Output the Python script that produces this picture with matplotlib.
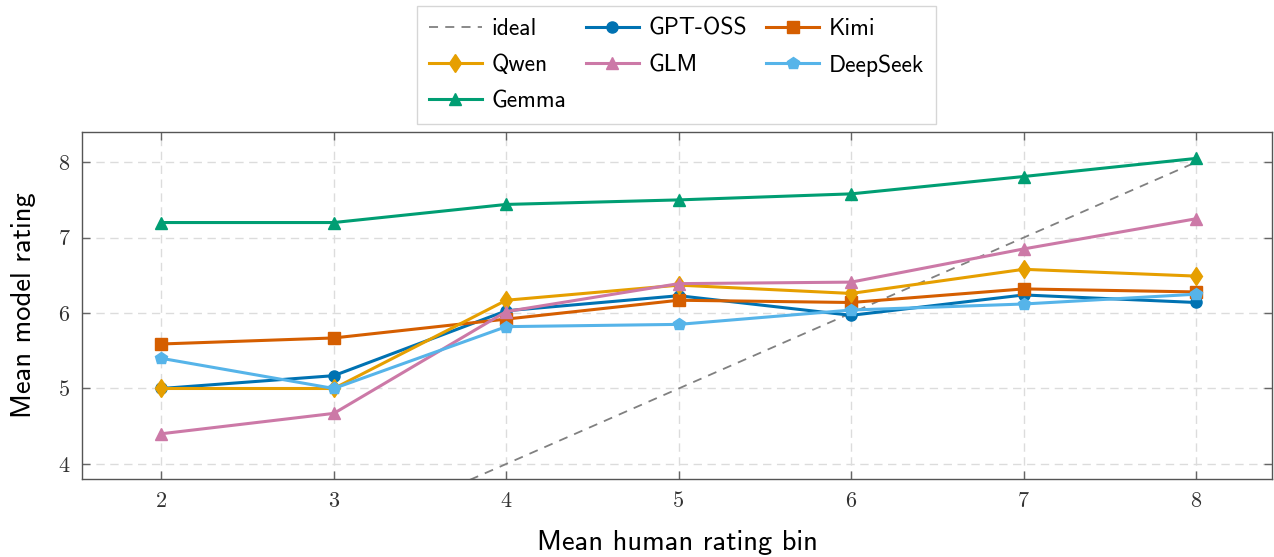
import matplotlib.pyplot as plt

bins = [2, 3, 4, 5, 6, 7, 8]

gpt_oss = [5.00, 5.17, 6.03, 6.23, 5.97, 6.24, 6.14]
kimi = [5.59, 5.67, 5.92, 6.17, 6.14, 6.32, 6.28]
qwen = [5.00, 5.00, 6.17, 6.37, 6.26, 6.58, 6.49]
glm = [4.40, 4.67, 6.02, 6.39, 6.41, 6.85, 7.25]
deepseek = [5.40, 5.00, 5.82, 5.85, 6.04, 6.12, 6.25]
gemma = [7.20, 7.20, 7.44, 7.50, 7.58, 7.81, 8.05]

series = [
    ("GPT-OSS", gpt_oss, "#0072B2", "o", 8),
    ("Kimi", kimi, "#D55E00", "s", 8),
    ("Qwen", qwen, "#E69F00", "d", 9.5),
    ("GLM", glm, "#CC79A7", "^", 9),
    ("DeepSeek", deepseek, "#56B4E9", "p", 9),
    ("Gemma", gemma, "#009E73", "^", 9),
]

SANS = "cmss10"
SERIF = "cmr10"

fig = plt.figure(figsize=(12.74, 5.57), dpi=100)
ax = fig.add_axes([0.0644, 0.140, 0.934, 0.623])

handles = {}
h, = ax.plot(bins, bins, color="#808080", linestyle=(0, (5, 4)), linewidth=1.3,
             label="ideal", zorder=2)
handles["ideal"] = h
for name, vals, col, mk, ms in series:
    h, = ax.plot(bins, vals, color=col, marker=mk, markersize=ms, linewidth=2.2,
                 label=name, zorder=3)
    handles[name] = h

ax.set_xlim(1.54, 8.44)
ax.set_ylim(3.8, 8.4)
ax.set_xticks(bins)
ax.set_yticks([4, 5, 6, 7, 8])
ax.grid(True, color="#dcdcdc", linestyle=(0, (6, 4)), linewidth=1)
ax.set_axisbelow(True)

ax.tick_params(direction="in", length=6, width=1, color="#666666",
               labelcolor="#333333", top=True, right=True, labelsize=16, pad=9)
for lab in ax.get_xticklabels() + ax.get_yticklabels():
    lab.set_fontfamily(SERIF)
for spine in ax.spines.values():
    spine.set_edgecolor("#555555")
    spine.set_linewidth(1)

ax.set_xlabel("Mean human rating bin", fontfamily=SANS, fontsize=20.5, labelpad=14)
ax.set_ylabel("Mean model rating", fontfamily=SANS, fontsize=20.5, labelpad=16)

# legend is filled column by column, so list it in that order
order = ["ideal", "Qwen", "Gemma", "GPT-OSS", "GLM", "Kimi", "DeepSeek"]
leg = fig.legend([handles[k] for k in order], order, loc="upper center",
                 bbox_to_anchor=(0.531, 0.989), borderaxespad=0, ncol=3,
                 frameon=True, fancybox=False, edgecolor="#cccccc",
                 handlelength=2.25, columnspacing=0.8, handletextpad=0.42,
                 labelspacing=0.6, borderpad=0.5,
                 prop={"family": SANS, "size": 17})
leg.get_frame().set_linewidth(1)

plt.savefig("out.png", dpi=100)
plt.close()
